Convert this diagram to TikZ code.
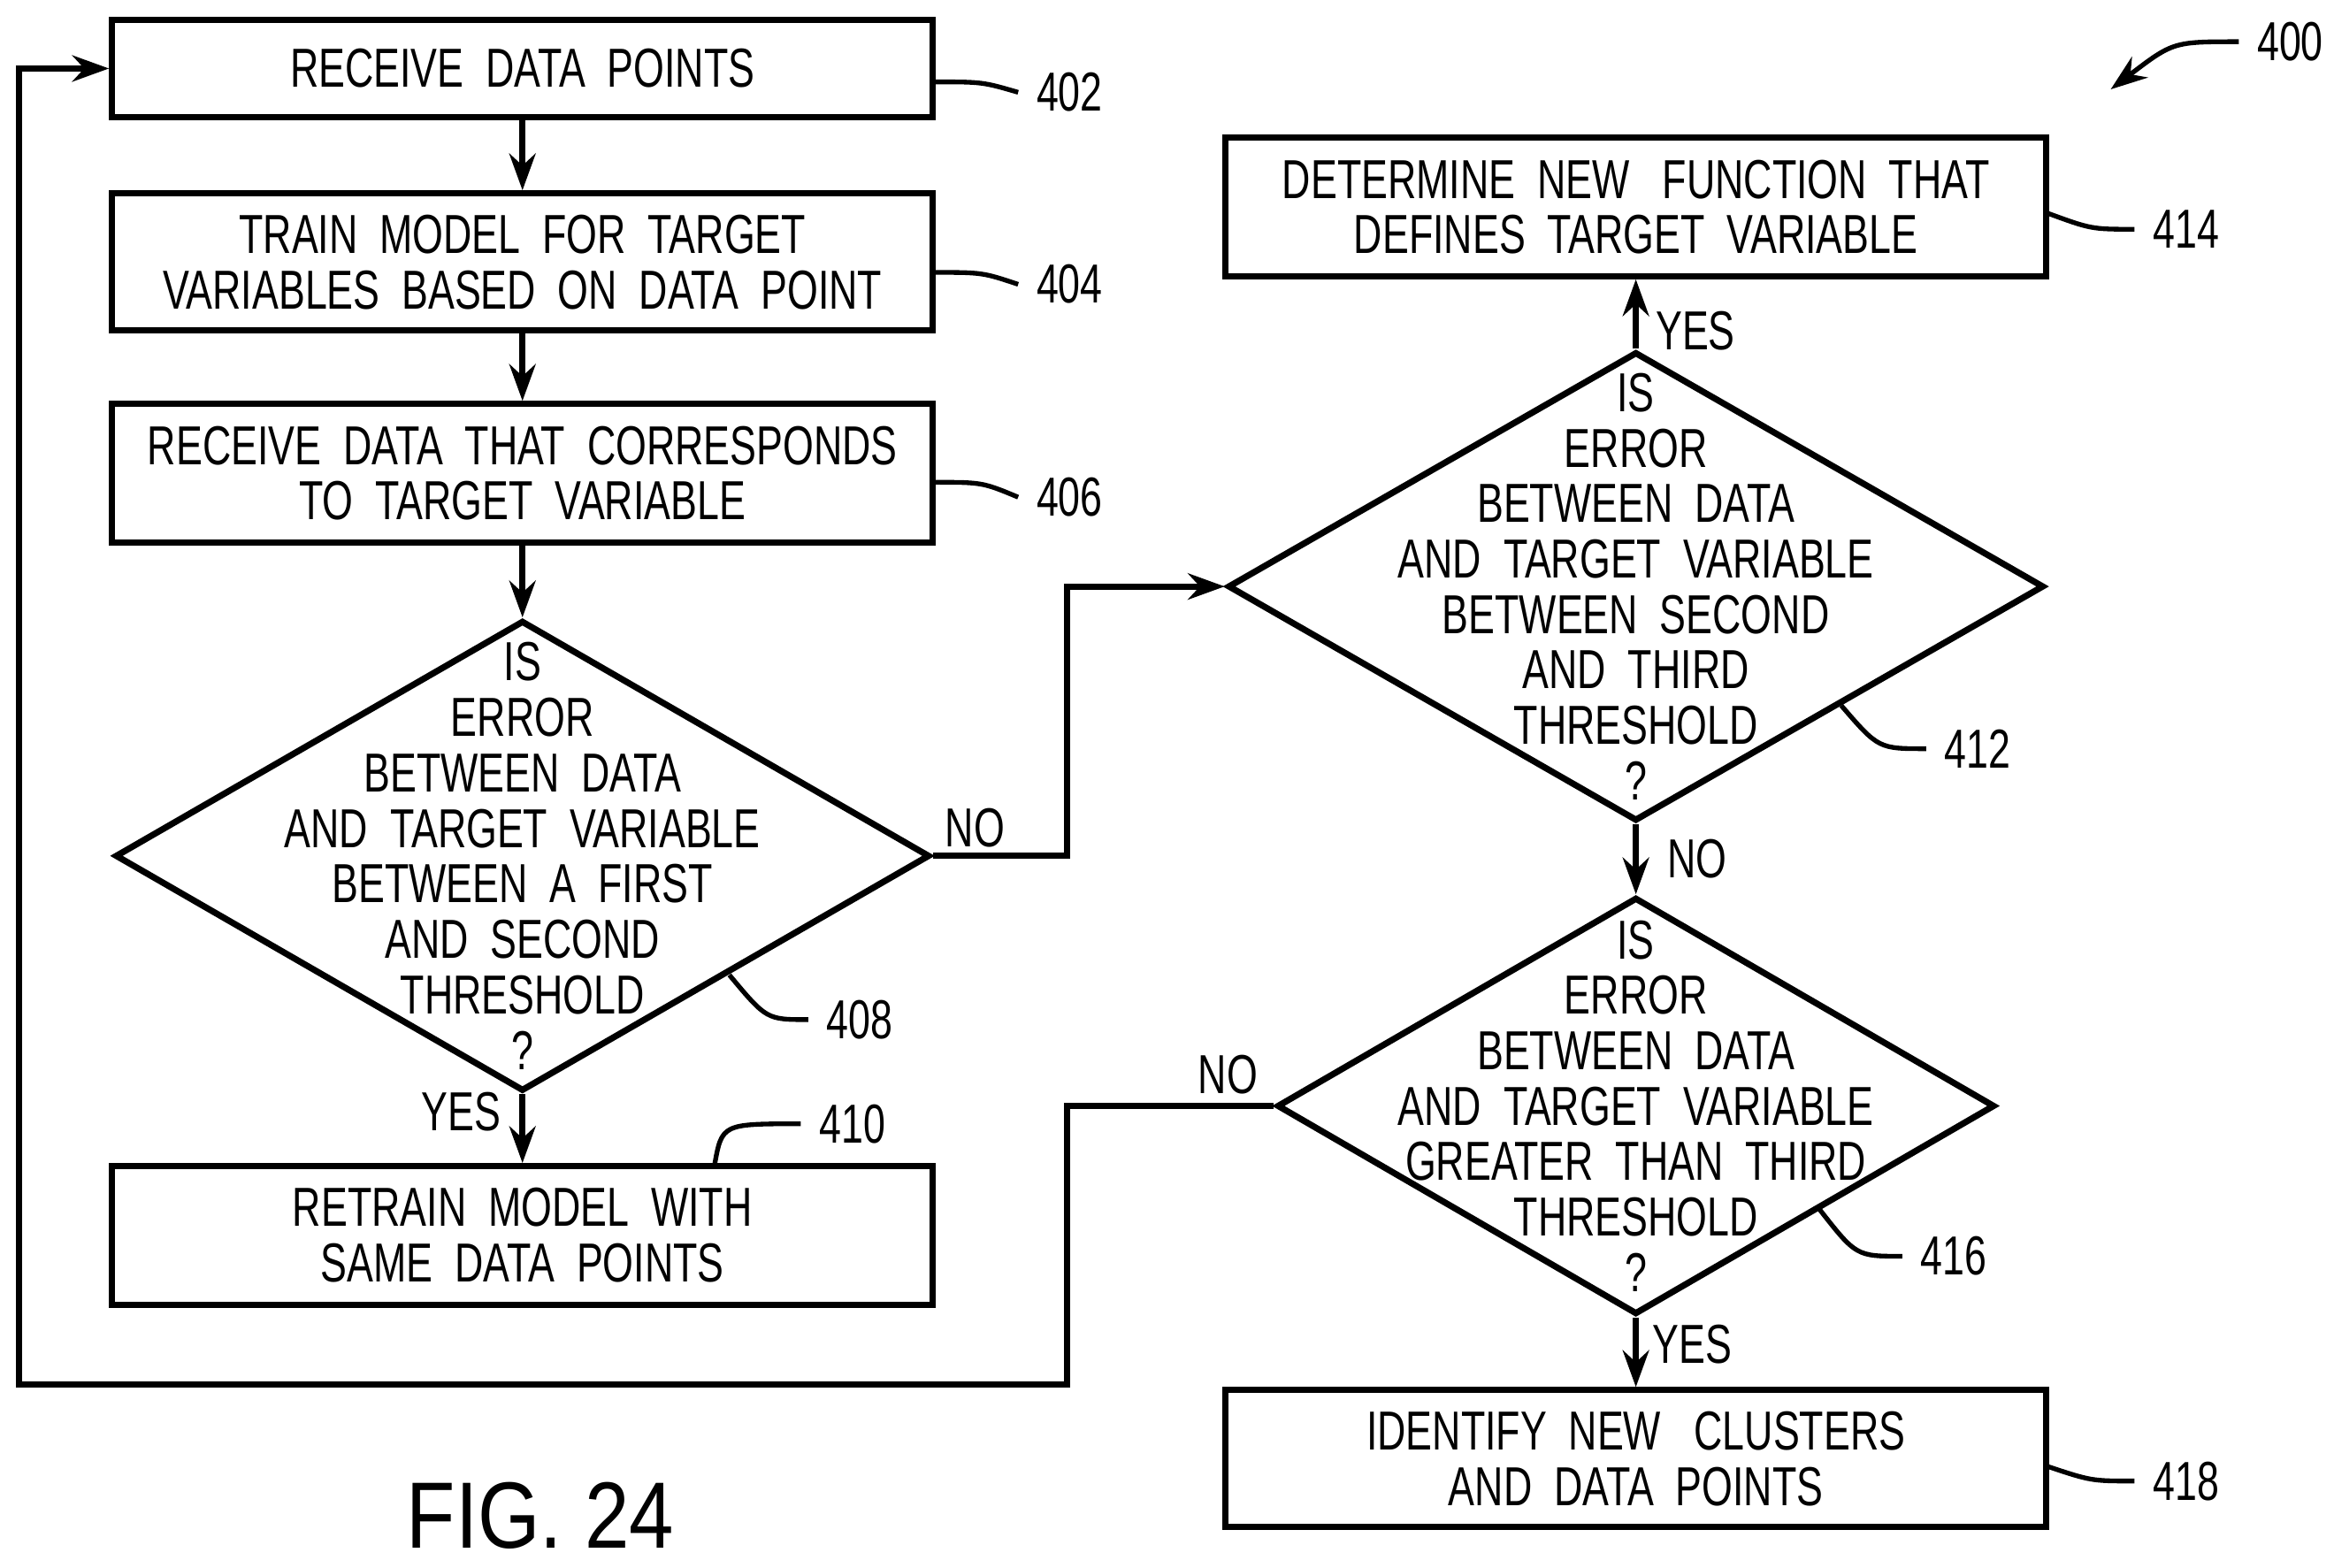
\documentclass[tikz,border=0pt]{standalone}
\usepackage{fontspec}
\setmainfont[FakeStretch=0.72]{Liberation Sans}
\newfontfamily\figfont[FakeStretch=0.85]{Liberation Sans}
\usetikzlibrary{shapes.geometric,arrows.meta}
\newcommand{\lw}{1.2pt}
\tikzset{
  box/.style={draw, line width=\lw, rectangle, minimum width=5.51cm, inner sep=0pt},
  dia/.style={draw, line width=\lw, diamond, inner sep=0pt},
  txt/.style={align=center, font=\fontsize{10.5pt}{10.6pt}\selectfont},
  flow/.style={line width=\lw, -{Stealth[length=7pt,width=5pt]}},
  lead/.style={line width=0.9pt},
  lbl/.style={font=\fontsize{10.5pt}{12pt}\selectfont}
}
\begin{document}
\begin{tikzpicture}[x=0.01cm,y=-0.01cm]
        \useasboundingbox (0,0) rectangle (1568,1053);
        % boxes
        \node[box, minimum height=0.65cm, txt] (b402) at (351,46) {RECEIVE\ \ DATA\ \ POINTS};
        \node[box, minimum height=0.92cm, txt] (b404) at (351,176) {TRAIN\ \ MODEL\ \ FOR\ \ TARGET\\VARIABLES\ \ BASED\ \ ON\ \ DATA\ \ POINT};
        \node[box, minimum height=0.93cm, txt] (b406) at (351,318) {RECEIVE\ \ DATA\ \ THAT\ \ CORRESPONDS\\TO\ \ TARGET\ \ VARIABLE};
        \node[box, minimum height=0.93cm, txt] (b410) at (351,830) {RETRAIN\ \ MODEL\ \ WITH\\SAME\ \ DATA\ \ POINTS};
        \node[box, minimum height=0.93cm, txt] (b414) at (1099,139) {DETERMINE\ \ NEW\ \ \ FUNCTION\ \ THAT\\DEFINES\ \ TARGET\ \ VARIABLE};
        \node[box, minimum height=0.92cm, txt] (b418) at (1099,980) {IDENTIFY\ \ NEW\ \ \ CLUSTERS\\AND\ \ DATA\ \ POINTS};
        % decisions
        \node[dia, minimum width=5.47cm, minimum height=3.16cm] (d408) at (351,575) {};
        \node[txt] (t408) at (351,575) {IS\\ERROR\\BETWEEN\ \ DATA\\AND\ \ TARGET\ \ VARIABLE\\BETWEEN\ \ A\ \ FIRST\\AND\ \ SECOND\\THRESHOLD\\?};
        \node[dia, minimum width=5.48cm, minimum height=3.15cm] (d412) at (1099,394) {};
        \node[txt] (t412) at (1099,394) {IS\\ERROR\\BETWEEN\ \ DATA\\AND\ \ TARGET\ \ VARIABLE\\BETWEEN\ \ SECOND\\AND\ \ THIRD\\THRESHOLD\\?};
        \node[dia, minimum width=4.82cm, minimum height=2.80cm] (d416) at (1099,743) {};
        \node[txt] (t416) at (1099,743) {IS\\ERROR\\BETWEEN\ \ DATA\\AND\ \ TARGET\ \ VARIABLE\\GREATER\ \ THAN\ \ THIRD\\THRESHOLD\\?};
        \coordinate (c1) at (717,575);
        \coordinate (c2) at (717,743);
        \coordinate (c3) at (717,930);
        \coordinate (c4) at (13,930);
        \coordinate (c5) at (13,46);

        \draw[flow] (b402) -- (b404);
        \draw[flow] (b404) -- (b406);
        \draw[flow] (b406) -- (d408);
        \draw[flow] (d408) -- (b410);
        \draw[flow] (d408.east) -- (c1) |- (d412.west);
        \draw[flow] (d412) -- (b414);
        \draw[flow] (d412) -- (d416);
        \draw[flow] (d416) -- (b418);
        \draw[flow] (d416.west) -- (c2) -- (c3) -- (c4) -- (c5) -- (b402.west);

        \node[lbl] (n1) at (655,556) {NO};
        \node[lbl] (y1) at (310,747) {YES};
        \node[lbl] (y2) at (1139,222) {YES};
        \node[lbl] (n2) at (1140,577) {NO};
        \node[lbl] (n3) at (825,722) {NO};
        \node[lbl] (y3) at (1137,903) {YES};

        % reference numerals
        \node[lbl, anchor=west] (r402) at (684,62) {402};
        \node[lbl, anchor=west] (r404) at (684,191) {404};
        \node[lbl, anchor=west] (r406) at (684,334) {406};
        \node[lbl, anchor=west] (r408) at (543,685) {408};
        \node[lbl, anchor=west] (r410) at (538,755) {410};
        \node[lbl, anchor=west] (r412) at (1294,503) {412};
        \node[lbl, anchor=west] (r414) at (1434,154) {414};
        \node[lbl, anchor=west] (r416) at (1278,844) {416};
        \node[lbl, anchor=west] (r418) at (1434,995) {418};
        \node[lbl, anchor=west] (r400) at (1504,28) {400};
        \draw[lead] (627,55) .. controls (660,55) .. (r402.west);
        \draw[lead] (627,183) .. controls (660,183) .. (r404.west);
        \draw[lead] (627,324) .. controls (660,324) .. (r406.west);
        \draw[lead] (490,655) .. controls (515,685) .. (r408.west);
        \draw[lead] (480,783) .. controls (485,755) .. (r410.west);
        \draw[lead] (1237,474) .. controls (1262,503) .. (r412.west);
        \draw[lead] (1375,143) .. controls (1405,154) .. (r414.west);
        \draw[lead] (1222,812) .. controls (1247,844) .. (r416.west);
        \draw[lead] (1375,985) .. controls (1405,995) .. (r418.west);
        \draw[lead, -{Stealth[length=7pt,width=5pt]}] (r400.west) .. controls (1460,28) .. (1418,60);

        \node[font=\figfont\fontsize{18pt}{20pt}\selectfont] (fig) at (363,1018) {FIG. 24};
\end{tikzpicture}
\end{document}
